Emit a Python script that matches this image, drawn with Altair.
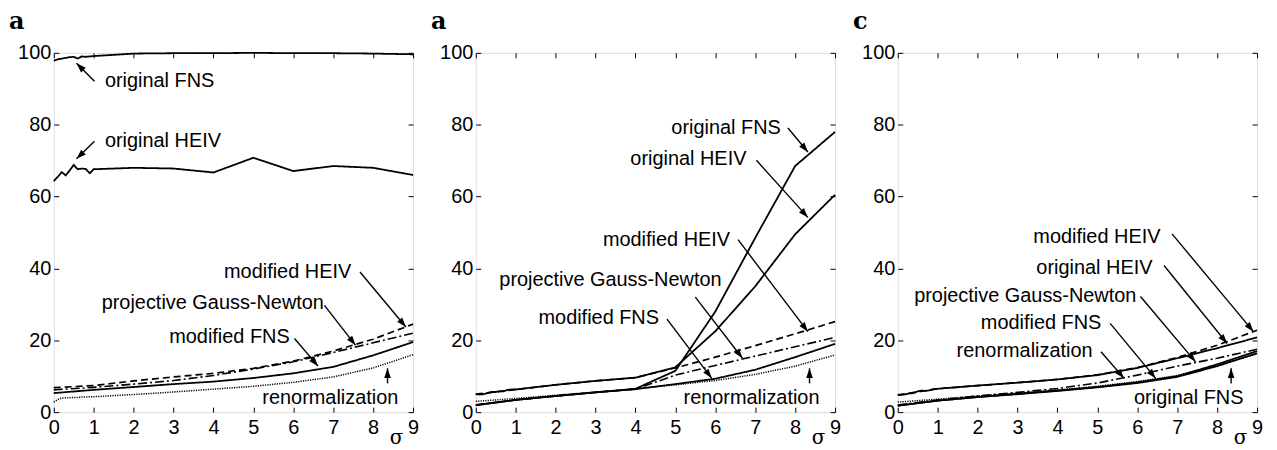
import math
import altair as alt
import pandas as pd

# ---------------- data ----------------
X_FINE = [0, 0.1, 0.2, 0.3, 0.4, 0.5, 0.6, 0.7, 0.8, 0.9, 1, 2, 3, 4, 5, 6, 7, 8, 9]
X_INT = [0, 1, 2, 3, 4, 5, 6, 7, 8, 9]

# panel a (left)
A_ORIG_FNS = [97.8, 98.2, 98.4, 98.6, 98.8, 98.9, 98.4, 99.0, 98.9, 99.0, 99.1, 99.8, 99.9, 99.9, 100.0, 99.9, 99.9, 99.8, 99.6]
A_ORIG_HEIV = [64.3, 65.5, 66.8, 65.9, 67.3, 68.8, 67.6, 67.8, 67.7, 66.5, 67.6, 68.0, 67.8, 66.7, 70.8, 67.1, 68.5, 68.0, 66.0]
A_MOD_HEIV = [6.8, 7.4, 8.7, 9.8, 10.8, 12.2, 14.2, 17.0, 20.3, 24.5]
A_PROJ_GN = [6.2, 6.9, 7.8, 8.8, 10.2, 12.0, 14.0, 16.6, 19.3, 22.0]
A_MOD_FNS = [5.3, 6.2, 7.0, 7.8, 8.5, 9.5, 10.8, 12.6, 15.8, 19.5]
A_RENORM = [2.8, 3.5, 3.9, 4.0, 4.0, 4.1, 4.1, 4.2, 4.2, 4.3, 4.3, 4.9, 5.6, 6.4, 7.2, 8.3, 9.8, 12.3, 16.0]

# panel b (middle)
B_ORIG_FNS = [2.0, 3.4, 4.5, 5.5, 6.5, 11.5, 28.0, 48.5, 68.5, 78.0]
B_ORIG_HEIV = [5.0, 4.9, 5.0, 5.3, 5.6, 5.6, 5.8, 5.8, 6.2, 6.3, 6.3, 7.6, 8.7, 9.6, 12.5, 22.5, 35.0, 49.5, 60.5]
B_MOD_HEIV = [5.0, 6.3, 7.6, 8.7, 9.6, 12.3, 15.3, 18.5, 21.8, 25.2]
B_PROJ_GN = [2.0, 3.4, 4.5, 5.5, 6.4, 10.3, 13.0, 15.6, 18.2, 20.8]
B_MOD_FNS = [1.9, 3.4, 4.5, 5.5, 6.4, 7.8, 9.3, 11.8, 15.3, 19.0]
B_RENORM = [3.0, 3.8, 4.7, 5.6, 6.5, 7.6, 8.8, 10.5, 12.8, 15.9]

# panel c (right)
C_ORIG_HEIV = [4.8, 4.8, 5.0, 5.2, 5.3, 5.8, 6.0, 5.9, 6.1, 6.4, 6.5, 7.4, 8.2, 9.1, 10.3, 12.3, 15.0, 17.8, 20.8]
C_MOD_HEIV = [4.8, 6.5, 7.4, 8.2, 9.1, 10.4, 12.4, 15.2, 18.6, 22.8]
C_PROJ_GN = [2.0, 3.4, 4.5, 5.5, 6.6, 8.1, 10.3, 12.8, 15.0, 17.5]
C_MOD_FNS = [1.8, 3.2, 4.2, 5.1, 6.0, 7.0, 8.3, 10.0, 13.3, 17.0]
C_ORIG_FNS = [1.8, 3.2, 4.2, 5.0, 5.9, 6.9, 8.1, 9.8, 12.8, 16.4]
C_RENORM = [2.8, 3.6, 4.5, 5.3, 6.2, 7.2, 8.5, 10.2, 13.0, 16.2]

# annotations: text, x, y, align ; arrows: from (x, y) -> tip (x, y)
A_LAB_TEXT = ["original FNS", "original HEIV", "modified HEIV", "projective Gauss-Newton", "modified FNS", "renormalization"]
A_LAB_X = [1.28, 1.28, 7.45, 1.2, 5.91, 8.63]
A_LAB_Y = [92.1, 75.4, 39.1, 30.4, 21.0, 3.9]
A_LAB_ALIGN = ["left", "left", "right", "left", "right", "right"]
A_ARR_X1 = [1.02, 1.02, 7.67, 6.78, 6.03, 8.36]
A_ARR_Y1 = [92.1, 75.4, 39.0, 29.7, 20.5, 8.0]
A_ARR_X2 = [0.57, 0.57, 8.82, 7.56, 6.62, 8.36]
A_ARR_Y2 = [97.1, 70.5, 23.7, 18.6, 12.8, 12.2]

B_LAB_TEXT = ["original FNS", "original HEIV", "modified HEIV", "projective Gauss-Newton", "modified FNS", "renormalization"]
B_LAB_X = [7.64, 6.78, 6.37, 0.59, 4.59, 8.61]
B_LAB_Y = [79.1, 70.5, 48.0, 36.7, 26.2, 3.9]
B_LAB_ALIGN = ["right", "right", "right", "left", "right", "right"]
B_ARR_X1 = [7.82, 7.03, 6.57, 5.5, 4.79, 8.36]
B_ARR_Y1 = [79.1, 70.1, 48.0, 32.0, 25.9, 8.0]
B_ARR_X2 = [8.32, 8.32, 8.32, 6.68, 5.91, 8.36]
B_ARR_Y2 = [72.4, 54.2, 22.4, 15.0, 9.4, 12.2]

C_LAB_TEXT = ["modified HEIV", "original HEIV", "projective Gauss-Newton", "modified FNS", "renormalization", "original FNS"]
C_LAB_X = [6.58, 6.38, 0.41, 5.1, 4.88, 8.66]
C_LAB_Y = [48.7, 40.1, 32.2, 24.7, 17.0, 3.9]
C_LAB_ALIGN = ["right", "right", "left", "right", "right", "right"]
C_ARR_X1 = [6.87, 6.67, 6.08, 5.32, 5.09, 8.35]
C_ARR_Y1 = [49.6, 40.8, 32.2, 24.7, 16.8, 8.0]
C_ARR_X2 = [8.91, 8.25, 7.46, 6.46, 5.67, 8.35]
C_ARR_Y2 = [22.4, 19.1, 14.0, 9.4, 9.4, 12.2]

X_TICKS = [0, 1, 2, 3, 4, 5, 6, 7, 8, 9]
Y_TICKS = [0, 20, 40, 60, 80, 100]

# ---------------- styling ----------------
W = 361
H = 361
SANS = "Liberation Sans"
SERIF = "DejaVu Serif"
STYLES = ["solid", "dashed", "dashdot", "dotted"]
DASHES = [[1, 0], [7, 4], [9, 3, 2, 3], [1.2, 1.2]]
WIDTHS = [1.8, 1.5, 1.5, 1.4]
ARROW = "M0,0L-0.34,1L0.34,1Z"


def series_df(series):
    rows = []
    for name, style, xs, ys in series:
        for x, y in zip(xs, ys):
            rows.append({"x": x, "y": y, "series": name, "style": style})
    return pd.DataFrame(rows)


def panel(title, series, lab_text, lab_x, lab_y, lab_align, ax1, ay1, ax2, ay2):
    xs = alt.Scale(domain=[0, 9], nice=False, zero=False)
    ys = alt.Scale(domain=[0, 100], nice=False, zero=False)

    x_axis = alt.Axis(orient="bottom", values=X_TICKS, format="d", tickSize=5, offset=-5,
                      domain=False, grid=False, labelPadding=5, labelFont=SANS, labelFontSize=20,
                      labelColor="black", tickColor="black", tickWidth=1, labelFlush=False,
                      labelOverlap=False, title="σ", titleFont=SERIF, titleFontSize=20,
                      titleFontWeight="normal", titleColor="black", titleX=344, titleY=37,
                      titleBaseline="alphabetic", titleAlign="center")
    y_axis = alt.Axis(orient="left", values=Y_TICKS, format="d", tickSize=5, offset=-5,
                      domain=False, grid=False, labelPadding=3, labelFont=SANS, labelFontSize=20,
                      labelColor="black", tickColor="black", tickWidth=1, labelFlush=False,
                      labelOverlap=False, title=None)
    x_top = alt.Axis(orient="top", values=X_TICKS, labels=False, tickSize=5, offset=-5,
                     domain=False, grid=False, tickColor="black", tickWidth=1, title=None)
    y_right = alt.Axis(orient="right", values=Y_TICKS, labels=False, tickSize=5, offset=-5,
                       domain=False, grid=False, tickColor="black", tickWidth=1, title=None)

    lines = alt.Chart(series_df(series)).mark_line(color="black").encode(
        x=alt.X("x:Q", scale=xs, axis=x_axis),
        y=alt.Y("y:Q", scale=ys, axis=y_axis),
        detail="series:N",
        strokeDash=alt.StrokeDash("style:N", scale=alt.Scale(domain=STYLES, range=DASHES), legend=None),
        strokeWidth=alt.StrokeWidth("style:N", scale=alt.Scale(domain=STYLES, range=WIDTHS), legend=None),
    )

    arr = pd.DataFrame({"x1": ax1, "y1": ay1, "x2": ax2, "y2": ay2})
    arr["angle"] = [
        (math.degrees(math.atan2((b - a) * W / 9.0, (d - c) * H / 100.0)) + 360.0) % 360.0
        for a, b, c, d in zip(ax1, ax2, ay1, ay2)
    ]
    rules = alt.Chart(arr).mark_rule(color="black", strokeWidth=1.4).encode(
        x=alt.X("x1:Q", scale=xs, axis=x_top),
        y=alt.Y("y1:Q", scale=ys, axis=y_right),
        x2="x2:Q",
        y2="y2:Q",
    )
    heads = alt.Chart(arr).mark_point(shape=ARROW, filled=True, color="black", opacity=1,
                                      size=380, strokeWidth=0).encode(
        x=alt.X("x2:Q", scale=xs, axis=None),
        y=alt.Y("y2:Q", scale=ys, axis=None),
        angle=alt.Angle("angle:Q", scale=None),
    )

    labs = pd.DataFrame({"text": lab_text, "x": lab_x, "y": lab_y, "align": lab_align})
    texts = []
    for al in ["left", "right"]:
        texts.append(
            alt.Chart(labs).transform_filter(alt.datum.align == al).mark_text(
                align=al, baseline="middle", font=SANS, fontSize=20, color="black"
            ).encode(
                x=alt.X("x:Q", scale=xs, axis=None),
                y=alt.Y("y:Q", scale=ys, axis=None),
                text="text:N",
            )
        )

    return alt.layer(lines, rules, heads, *texts).resolve_axis(
        x="independent", y="independent"
    ).properties(
        width=W, height=H,
        title=alt.TitleParams(title, anchor="start", frame="group", dx=-45, font=SERIF,
                              fontSize=24, fontWeight="bold", color="black", offset=9),
    )


pa = panel("a", [
    ("orig FNS", "solid", X_FINE, A_ORIG_FNS),
    ("orig HEIV", "solid", X_FINE, A_ORIG_HEIV),
    ("mod HEIV", "dashed", X_INT, A_MOD_HEIV),
    ("proj GN", "dashdot", X_INT, A_PROJ_GN),
    ("mod FNS", "solid", X_INT, A_MOD_FNS),
    ("renorm", "dotted", X_FINE, A_RENORM),
], A_LAB_TEXT, A_LAB_X, A_LAB_Y, A_LAB_ALIGN, A_ARR_X1, A_ARR_Y1, A_ARR_X2, A_ARR_Y2)

pb = panel("a", [
    ("orig FNS", "solid", X_INT, B_ORIG_FNS),
    ("orig HEIV", "solid", X_FINE, B_ORIG_HEIV),
    ("mod HEIV", "dashed", X_INT, B_MOD_HEIV),
    ("proj GN", "dashdot", X_INT, B_PROJ_GN),
    ("mod FNS", "solid", X_INT, B_MOD_FNS),
    ("renorm", "dotted", X_INT, B_RENORM),
], B_LAB_TEXT, B_LAB_X, B_LAB_Y, B_LAB_ALIGN, B_ARR_X1, B_ARR_Y1, B_ARR_X2, B_ARR_Y2)

pc = panel("c", [
    ("orig HEIV", "solid", X_FINE, C_ORIG_HEIV),
    ("mod HEIV", "dashed", X_INT, C_MOD_HEIV),
    ("proj GN", "dashdot", X_INT, C_PROJ_GN),
    ("mod FNS", "solid", X_INT, C_MOD_FNS),
    ("orig FNS", "solid", X_INT, C_ORIG_FNS),
    ("renorm", "dotted", X_INT, C_RENORM),
], C_LAB_TEXT, C_LAB_X, C_LAB_Y, C_LAB_ALIGN, C_ARR_X1, C_ARR_Y1, C_ARR_X2, C_ARR_Y2)

chart = alt.hconcat(pa, pb, pc, spacing=10).properties(
    padding={"left": 0, "top": 0, "right": 5, "bottom": 3}
).configure_view(stroke="black", strokeWidth=1.5).configure(background="white")

chart.save("out.html", embed_options={"renderer": "svg", "actions": False})
